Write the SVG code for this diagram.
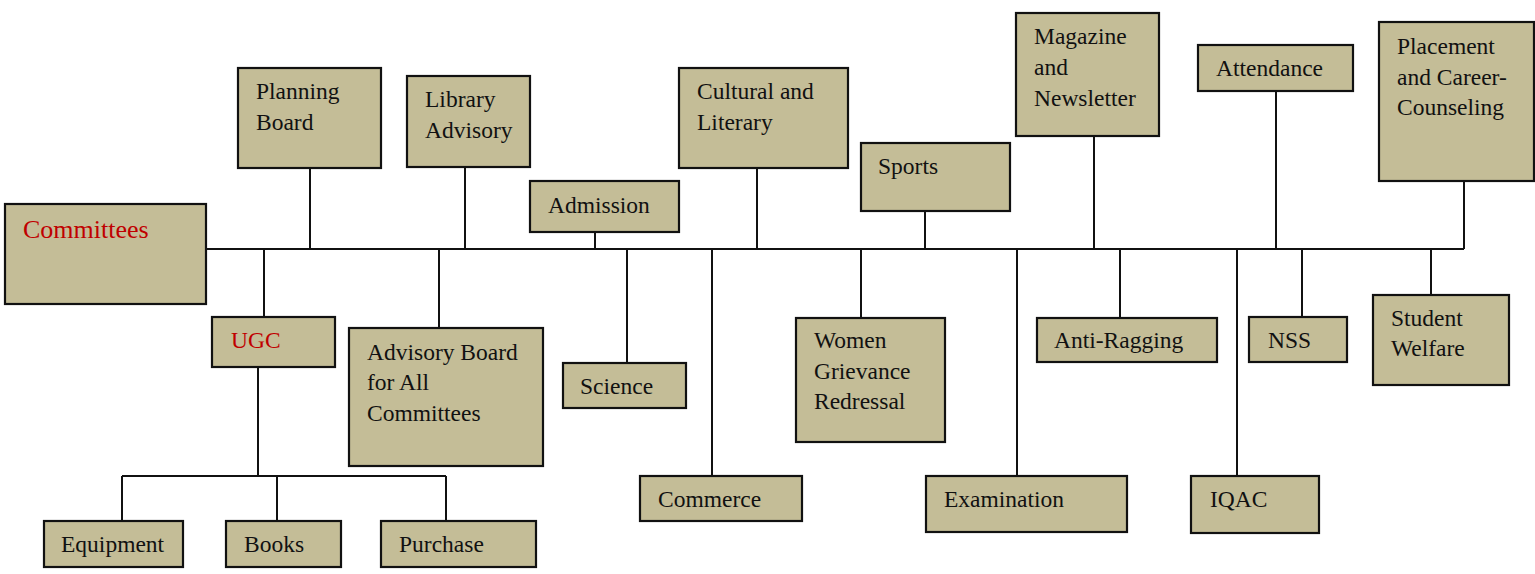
<svg xmlns="http://www.w3.org/2000/svg" width="1535" height="574" viewBox="0 0 1535 574">
<style>
.b{fill:#c4bd97;stroke:#111;stroke-width:2.2}
.t{font-family:"Liberation Serif","Times New Roman",serif;font-size:23.5px;fill:#111}
.r{fill:#c00000}
.c{fill:none;stroke:#111;stroke-width:2}
</style>
<rect width="1535" height="574" fill="#fff"/>
<g id="connectors">
<path class="c" d="M206,249H1464"/>
<path class="c" d="M310,168V249M465,167V249M595,232V249M757,168V249M925,211V249M1094,136V249M1276,91V249M1464,181V249"/>
<path class="c" d="M264,249V317M439,249V328M627,249V363M712,249V476M861,249V318M1017,249V476M1120,249V318M1237,249V476M1302,249V317M1431,249V295"/>
<path class="c" d="M258,367V476M122,476H446M122,476V521M277,476V521M446,476V521"/>
</g>
<g id="committees"><rect class="b" x="5" y="204" width="201" height="100"/><text class="t r" x="23" y="238" style="font-size:26px">Committees</text></g>
<g id="planning"><rect class="b" x="238" y="68" width="143" height="100"/><text class="t" x="256" y="99">Planning</text><text class="t" x="256" y="130">Board</text></g>
<g id="library"><rect class="b" x="407" y="76" width="123" height="91"/><text class="t" x="425" y="107">Library</text><text class="t" x="425" y="138">Advisory</text></g>
<g id="admission"><rect class="b" x="530" y="181" width="149" height="51"/><text class="t" x="548" y="213">Admission</text></g>
<g id="cultural"><rect class="b" x="679" y="68" width="169" height="100"/><text class="t" x="697" y="99">Cultural and</text><text class="t" x="697" y="130">Literary</text></g>
<g id="sports"><rect class="b" x="861" y="143" width="149" height="68"/><text class="t" x="878" y="174">Sports</text></g>
<g id="magazine"><rect class="b" x="1016" y="13" width="143" height="123"/><text class="t" x="1034" y="44">Magazine</text><text class="t" x="1034" y="75">and</text><text class="t" x="1034" y="106">Newsletter</text></g>
<g id="attendance"><rect class="b" x="1198" y="45" width="155" height="46"/><text class="t" x="1216" y="76">Attendance</text></g>
<g id="placement"><rect class="b" x="1379" y="22" width="155" height="159"/><text class="t" x="1397" y="54">Placement</text><text class="t" x="1397" y="85">and Career-</text><text class="t" x="1397" y="115">Counseling</text></g>
<g id="ugc"><rect class="b" x="212" y="317" width="123" height="50"/><text class="t r" x="231" y="348">UGC</text></g>
<g id="equipment"><rect class="b" x="44" y="521" width="139" height="46"/><text class="t" x="61" y="552">Equipment</text></g>
<g id="books"><rect class="b" x="226" y="521" width="115" height="46"/><text class="t" x="244" y="552">Books</text></g>
<g id="purchase"><rect class="b" x="381" y="521" width="155" height="46"/><text class="t" x="399" y="552">Purchase</text></g>
<g id="advisory"><rect class="b" x="349" y="328" width="194" height="138"/><text class="t" x="367" y="360">Advisory Board</text><text class="t" x="367" y="390">for All</text><text class="t" x="367" y="421">Committees</text></g>
<g id="science"><rect class="b" x="563" y="363" width="123" height="45"/><text class="t" x="580" y="394">Science</text></g>
<g id="commerce"><rect class="b" x="640" y="476" width="162" height="45"/><text class="t" x="658" y="507">Commerce</text></g>
<g id="women"><rect class="b" x="796" y="318" width="149" height="124"/><text class="t" x="814" y="348">Women</text><text class="t" x="814" y="379">Grievance</text><text class="t" x="814" y="409">Redressal</text></g>
<g id="examination"><rect class="b" x="926" y="476" width="201" height="56"/><text class="t" x="944" y="507">Examination</text></g>
<g id="antiragging"><rect class="b" x="1037" y="318" width="180" height="44"/><text class="t" x="1054" y="348">Anti-Ragging</text></g>
<g id="iqac"><rect class="b" x="1191" y="476" width="128" height="57"/><text class="t" x="1210" y="507">IQAC</text></g>
<g id="nss"><rect class="b" x="1249" y="317" width="98" height="45"/><text class="t" x="1268" y="348">NSS</text></g>
<g id="welfare"><rect class="b" x="1373" y="295" width="136" height="90"/><text class="t" x="1391" y="326">Student</text><text class="t" x="1391" y="356">Welfare</text></g>
</svg>
